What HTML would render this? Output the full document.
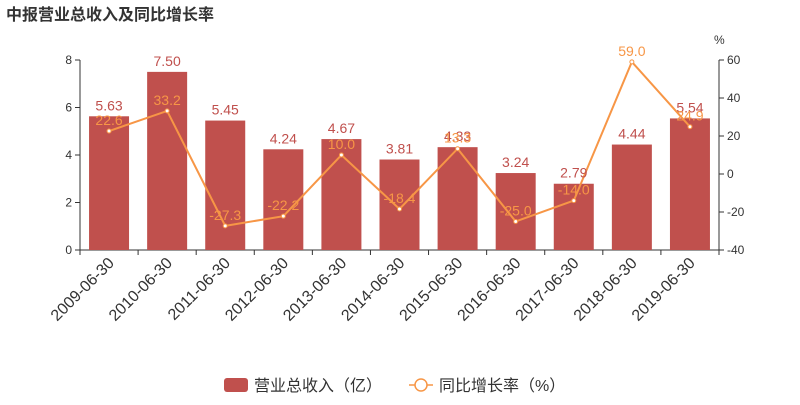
<!DOCTYPE html>
<html><head><meta charset="utf-8"><style>
body{margin:0;background:#fff;width:800px;height:400px;overflow:hidden;font-family:"Liberation Sans","Noto Sans CJK SC",sans-serif}
</style></head><body>
<svg width="800" height="400" xmlns="http://www.w3.org/2000/svg" font-family="Liberation Sans, Noto Sans CJK SC, sans-serif">
<text x="6" y="20" font-size="16" font-weight="bold" fill="#333">中报营业总收入及同比增长率</text>
<text x="714" y="44" font-size="12" fill="#333">%</text>
<g id="axes"></g><g id="bars"></g><g id="line"></g><g id="labels"></g>
<g>
<rect x="224" y="378" width="24" height="14" rx="3" fill="#c0504d"/>
<text x="254" y="391" font-size="16" fill="#333">营业总收入（亿）</text>
<line x1="409" y1="385" x2="433" y2="385" stroke="#f79646" stroke-width="1.5"/>
<circle cx="421" cy="385" r="6" fill="#fff" stroke="#f79646" stroke-width="1.5"/>
<text x="439" y="391" font-size="16" fill="#333">同比增长率（%）</text>
</g>
</svg>
<script>
const categories=["2009-06-30","2010-06-30","2011-06-30","2012-06-30","2013-06-30","2014-06-30","2015-06-30","2016-06-30","2017-06-30","2018-06-30","2019-06-30"];
const revenue=[5.63,7.50,5.45,4.24,4.67,3.81,4.33,3.24,2.79,4.44,5.54];
const growth=[22.6,33.2,-27.3,-22.2,10.0,-18.4,13.3,-25.0,-14.0,59.0,24.9];
const leftTicks=[0,2,4,6,8];
const rightTicks=[-40,-20,0,20,40,60];
const NS="http://www.w3.org/2000/svg";
const X0=80,X1=719,Y0=250,Y1=60;
const band=(X1-X0)/categories.length;
const xc=i=>X0+band*(i+0.5);
const yL=v=>Y0-(v-0)/(8-0)*(Y0-Y1);
const yR=v=>Y0-(v+40)/100*(Y0-Y1);
function mk(tag,attrs,parent,txt){const e=document.createElementNS(NS,tag);for(const k in attrs)e.setAttribute(k,attrs[k]);if(txt!==undefined)e.textContent=txt;document.getElementById(parent).appendChild(e);return e;}
let e;
e=mk("line",{x1:X0,y1:Y0,x2:X1,y2:Y0,stroke:"#333"},"axes");


e=mk("line",{x1:X0,y1:Y0,x2:X0,y2:Y1,stroke:"#333"},"axes");


e=mk("line",{x1:X1,y1:Y0,x2:X1,y2:Y1,stroke:"#333"},"axes");


leftTicks.forEach(t=>{mk("line",{x1:X0-5,y1:yL(t),x2:X0,y2:yL(t),stroke:"#333"},"axes");
e=mk("text",{x:X0-8,y:yL(t)+4,"font-size":12,fill:"#333","text-anchor":"end"},"axes",t);

});
rightTicks.forEach(t=>{mk("line",{x1:X1,y1:yR(t),x2:X1+5,y2:yR(t),stroke:"#333"},"axes");
e=mk("text",{x:X1+8,y:yR(t)+4,"font-size":12,fill:"#333"},"axes",t);

});
categories.forEach((c,i)=>{const x=X0+band*(i+1);mk("line",{x1:x,y1:Y0,x2:x,y2:Y0+5,stroke:"#333"},"axes");
mk("line",{x1:X0,y1:Y0,x2:X0,y2:Y0+5,stroke:"#333"},"axes");
const cx=xc(i)+6;
e=mk("text",{x:cx,y:Y0+14,"font-size":16,fill:"#333","text-anchor":"end",transform:`rotate(-45 ${cx} ${Y0+14})`},"axes",c);

});
revenue.forEach((v,i)=>{
e=mk("rect",{x:xc(i)-20,y:yL(v),width:40,height:Y0-yL(v),fill:"#c0504d"},"bars");


e=mk("text",{x:xc(i),y:yL(v)-6,"font-size":14,fill:"#c0504d","text-anchor":"middle"},"labels",v.toFixed(2));

});
e=mk("polyline",{points:growth.map((v,i)=>xc(i)+","+yR(v)).join(" "),fill:"none",stroke:"#f79646","stroke-width":2},"line");


growth.forEach((v,i)=>{
e=mk("circle",{cx:xc(i),cy:yR(v),r:2,fill:"#fff",stroke:"#f79646"},"line");


e=mk("text",{x:xc(i),y:yR(v)-6,"font-size":14,fill:"#f79646","text-anchor":"middle"},"labels",v.toFixed(1));

});
</script>
</body></html>
